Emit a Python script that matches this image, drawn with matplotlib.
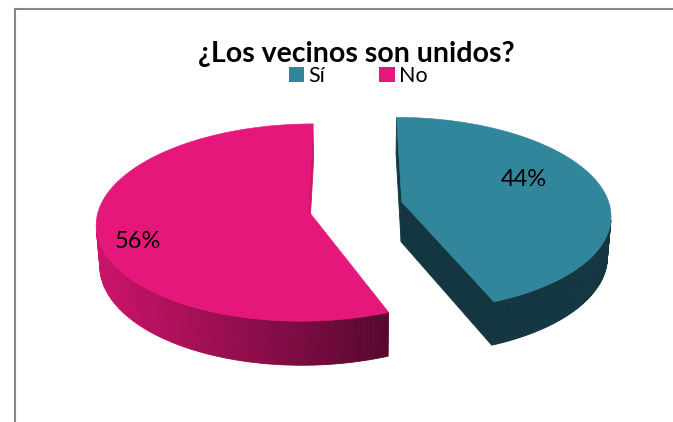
import numpy as np
import matplotlib
matplotlib.use("Agg")
import matplotlib.pyplot as plt
from matplotlib.patches import Polygon, Patch
from matplotlib.lines import Line2D
from matplotlib.colors import to_rgb

# Survey answers
title = "¿Los vecinos son unidos?"
categories = ["Sí", "No"]
shares = [44, 56]

# Slice styling
top_colors = ["#31869B", "#E6177A"]
side_light = ["#133640", "#CC1368"]
side_dark = ["#133640", "#560830"]
cut_colors = ["#133640", "#D3146F"]
label_radius = [0.66, 0.83]

# Canvas and 3D view setup (pixels)
W, H, DPI = 673, 422, 100
CX, CY = 355, 206
SCALE = 208
TILT = np.radians(27.5)
DIST = 7.1
THICK = 0.22
EXPLODE = 0.23

sin_t, cos_t = np.sin(TILT), np.cos(TILT)
camera = np.array([0.0, -DIST * cos_t, DIST * sin_t])


def project(x, y, z):
    """Perspective projection of model coords (z = 0 is the top face)."""
    x, y, z = np.asarray(x, float), np.asarray(y, float), np.asarray(z, float)
    up = y * sin_t + z * cos_t
    depth = DIST + y * cos_t - z * sin_t
    k = SCALE * DIST / depth
    return CX + x * k, CY - up * k


def facing(normal, point):
    return np.dot(normal, camera - np.asarray(point)) > 0


def quad(ax, xs, ys, zs, color):
    px, py = project(xs, ys, zs)
    ax.add_patch(Polygon(np.column_stack([px, py]), closed=True,
                         facecolor=color, edgecolor=color, lw=0.6))


def mix(c1, c2, t):
    a, b = np.array(to_rgb(c1)), np.array(to_rgb(c2))
    return tuple(a + (b - a) * t)


fig = plt.figure(figsize=(W / DPI, H / DPI), dpi=DPI)
ax = fig.add_axes([0, 0, 1, 1])
ax.set_xlim(0, W)
ax.set_ylim(H, 0)
ax.axis("off")

total = float(sum(shares))
bounds = np.concatenate([[0], np.cumsum(shares)]) / total * 2 * np.pi

for i, value in enumerate(shares):
    t0, t1 = bounds[i], bounds[i + 1]
    mid = (t0 + t1) / 2
    ox, oy = EXPLODE * np.sin(mid), EXPLODE * np.cos(mid)
    thetas = np.linspace(t0, t1, 160)
    ax_x = ox + np.sin(thetas)
    ax_y = oy + np.cos(thetas)

    # radial cut faces
    for ang, normal in ((t0, (-np.cos(t0), np.sin(t0), 0)),
                        (t1, (np.cos(t1), -np.sin(t1), 0))):
        ex, ey = ox + np.sin(ang), oy + np.cos(ang)
        centre = (ox + 0.5 * np.sin(ang), oy + 0.5 * np.cos(ang), -THICK / 2)
        if facing(normal, centre):
            quad(ax, [ox, ex, ex, ox], [oy, ey, ey, oy],
                 [0, 0, -THICK, -THICK], cut_colors[i])

    # outer wall, shaded left to right
    visible = []
    for a, b in zip(range(len(thetas) - 1), range(1, len(thetas))):
        tm = (thetas[a] + thetas[b]) / 2
        n = (np.sin(tm), np.cos(tm), 0)
        p = (ox + np.sin(tm), oy + np.cos(tm), -THICK / 2)
        if facing(n, p):
            visible.append((a, b))
    if visible:
        sx, _ = project(ax_x, ax_y, np.zeros_like(ax_x))
        idx = [a for a, _ in visible] + [visible[-1][1]]
        xmin, xmax = sx[idx].min(), sx[idx].max()
        for a, b in visible:
            t = ((sx[a] + sx[b]) / 2 - xmin) / max(xmax - xmin, 1)
            quad(ax, [ax_x[a], ax_x[b], ax_x[b], ax_x[a]],
                 [ax_y[a], ax_y[b], ax_y[b], ax_y[a]],
                 [0, 0, -THICK, -THICK], mix(side_light[i], side_dark[i], t))

    # top face
    px, py = project(np.concatenate([[ox], ax_x]),
                     np.concatenate([[oy], ax_y]),
                     np.zeros(len(ax_x) + 1))
    ax.add_patch(Polygon(np.column_stack([px, py]), closed=True,
                         facecolor=top_colors[i], edgecolor=top_colors[i], lw=0.4))

    # percentage label
    la = mid - np.radians(11)
    r = label_radius[i]
    lx, ly = project(ox + r * np.sin(la), oy + r * np.cos(la), 0)
    ax.text(float(lx), float(ly), f"{value / total:.0%}", ha="center", va="center",
            fontsize=17, family="Lato", color="black")

fig.text(356 / W, 1 - 62 / H, title, ha="center", va="baseline",
         fontsize=20.5, fontweight="bold", family="Lato", color="black")

handles = [Patch(facecolor=c, edgecolor="none") for c in top_colors]
fig.legend(handles, categories, loc="center", bbox_to_anchor=(358 / W, 1 - 76 / H),
           ncol=2, frameon=False, prop={"family": "Lato", "size": 15.5},
           handlelength=0.72, handleheight=0.72, handletextpad=0.2,
           columnspacing=2.5, borderpad=0)

# chart frame (runs off the right and bottom edges)
frame = dict(color="#878787", lw=1.5, solid_capstyle="projecting")
fig.add_artist(Line2D([14.5 / W, 14.5 / W], [0, 1 - 8.5 / H], **frame))
fig.add_artist(Line2D([14.5 / W, 1], [1 - 8.5 / H, 1 - 8.5 / H], **frame))

fig.savefig("out.png", dpi=DPI, facecolor="white")
